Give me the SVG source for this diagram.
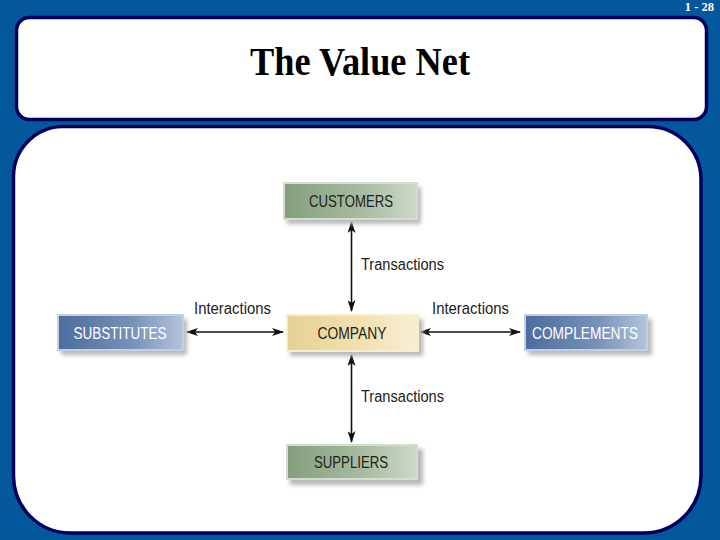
<svg xmlns="http://www.w3.org/2000/svg" width="720" height="540" viewBox="0 0 720 540">
<defs>
<style>
.frame{fill:#ffffff;stroke:#00005e;stroke-width:3.5}
.node{stroke-width:2}
.lbl{font-family:"Liberation Sans Narrow","Liberation Sans",Arial,sans-serif;font-size:17px;text-anchor:middle}
.dark{fill:#1e1e1e}
.light{fill:#ffffff}
.conn{font-family:"Liberation Sans Narrow","Liberation Sans",Arial,sans-serif;font-size:16px;fill:#222}
.line{stroke:#111;stroke-width:1.6;fill:none;marker-start:url(#ah);marker-end:url(#ah)}
.shadow{fill:#b8b8b8;filter:url(#blur)}
</style>
<linearGradient id="gGreen" x1="0" y1="0" x2="1" y2="0">
<stop offset="0" stop-color="#849f7c"/><stop offset="0.6" stop-color="#a9bca2"/><stop offset="1" stop-color="#cdd9c8"/>
</linearGradient>
<linearGradient id="gYellow" x1="0" y1="0" x2="1" y2="0">
<stop offset="0" stop-color="#e6d193"/><stop offset="0.6" stop-color="#f1e2b4"/><stop offset="1" stop-color="#f8efd3"/>
</linearGradient>
<linearGradient id="gBlue" x1="0" y1="0" x2="1" y2="0">
<stop offset="0" stop-color="#4b6c9d"/><stop offset="0.6" stop-color="#7792b9"/><stop offset="1" stop-color="#b4c4dc"/>
</linearGradient>
<filter id="blur" x="-10%" y="-20%" width="120%" height="140%"><feGaussianBlur stdDeviation="2"/></filter>
<marker id="ah" viewBox="0 0 12 8" refX="11" refY="4" markerWidth="12" markerHeight="8" markerUnits="userSpaceOnUse" orient="auto-start-reverse">
<path d="M0,0 L12,4 L0,8 L3,4 Z" fill="#111"/>
</marker>
</defs>
<rect x="0" y="0" width="720" height="540" fill="#03589b"/>
<text x="714" y="11" font-family="Liberation Serif,serif" font-weight="bold" font-size="12.5" fill="#ffffff" text-anchor="end">1 - 28</text>
<g id="title">
<rect class="frame" x="16.5" y="17.5" width="690" height="102" rx="13"/>
<text x="360" y="75" font-family="Liberation Serif,Times New Roman,serif" font-weight="bold" font-size="39" text-anchor="middle" textLength="220" lengthAdjust="spacingAndGlyphs" fill="#000">The Value Net</text>
</g>
<path id="panel" class="frame" d="M62,126.5 H648 A53,53 0 0 1 701,179.5 V476 A57,57 0 0 1 644,533 H70 A57,57 0 0 1 13.5,476 V176 A50,50 0 0 1 62,126.5 Z"/>
<g id="connectors">
<line class="line" x1="351.5" y1="222" x2="351.5" y2="311"/>
<line class="line" x1="351.5" y1="355" x2="351.5" y2="442"/>
<line class="line" x1="187" y1="332" x2="283" y2="332"/>
<line class="line" x1="420" y1="332" x2="520" y2="332"/>
<text class="conn" x="361" y="270" textLength="83" lengthAdjust="spacingAndGlyphs">Transactions</text>
<text class="conn" x="361" y="402" textLength="83" lengthAdjust="spacingAndGlyphs">Transactions</text>
<text class="conn" x="194" y="314" textLength="77" lengthAdjust="spacingAndGlyphs">Interactions</text>
<text class="conn" x="432" y="314" textLength="77" lengthAdjust="spacingAndGlyphs">Interactions</text>
</g>
<g id="customers">
<rect class="shadow" x="287" y="187" width="134" height="37"/>
<rect class="node" x="284" y="183" width="133" height="36" fill="url(#gGreen)" stroke="#d4ddd0"/>
<text class="lbl dark" x="351" y="207" textLength="84" lengthAdjust="spacingAndGlyphs">CUSTOMERS</text>
</g>
<g id="company">
<rect class="shadow" x="290" y="319" width="133" height="37"/>
<rect class="node" x="287" y="315" width="131" height="36" fill="url(#gYellow)" stroke="#f6eed4"/>
<text class="lbl dark" x="352" y="339" textLength="69" lengthAdjust="spacingAndGlyphs">COMPANY</text>
</g>
<g id="substitutes">
<rect class="shadow" x="61" y="319" width="126" height="36"/>
<rect class="node" x="58" y="315" width="125" height="35" fill="url(#gBlue)" stroke="#c4cfe0"/>
<text class="lbl light" x="120" y="339" textLength="93" lengthAdjust="spacingAndGlyphs">SUBSTITUTES</text>
</g>
<g id="complements">
<rect class="shadow" x="528" y="319" width="124" height="36"/>
<rect class="node" x="525" y="315" width="122" height="35" fill="url(#gBlue)" stroke="#c4cfe0"/>
<text class="lbl light" x="585" y="339" textLength="106" lengthAdjust="spacingAndGlyphs">COMPLEMENTS</text>
</g>
<g id="suppliers">
<rect class="shadow" x="290" y="449" width="133" height="36"/>
<rect class="node" x="287" y="445" width="130" height="34" fill="url(#gGreen)" stroke="#d4ddd0"/>
<text class="lbl dark" x="351" y="468" textLength="74" lengthAdjust="spacingAndGlyphs">SUPPLIERS</text>
</g>
</svg>
